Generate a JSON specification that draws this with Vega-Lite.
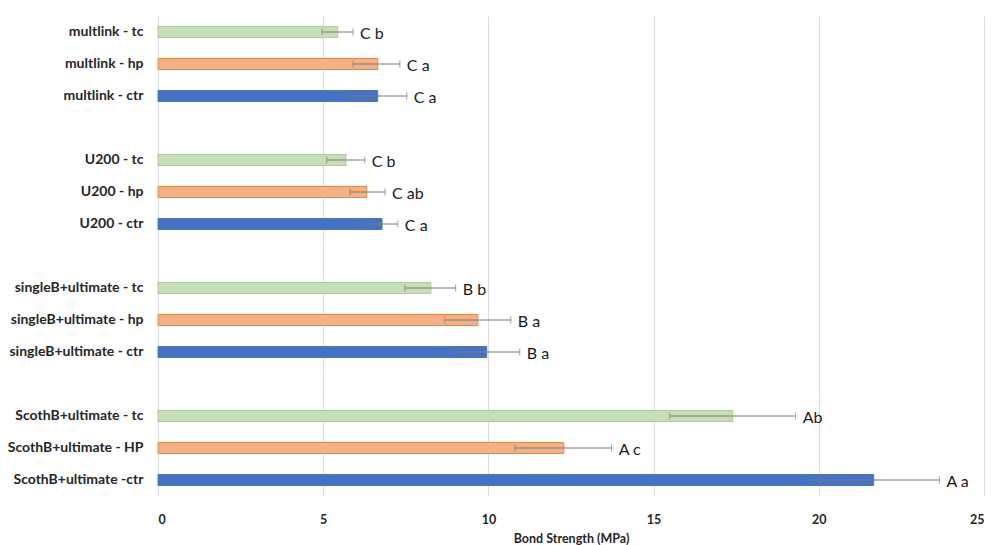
{
  "$schema": "https://vega.github.io/schema/vega-lite/v6.json",
  "width": 826,
  "height": 480,
  "autosize": {"type": "none"},
  "padding": {"left": 158, "top": 16, "right": 7, "bottom": 49},
  "background": "white",
  "config": {"view": {"stroke": null}, "font": "Lato"},
  "data": {
    "values": [
      {"label": "multlink - tc", "cond": "tc", "mean": 5.44, "lo": 4.96, "hi": 5.9, "sig": "C b"},
      {"label": "multlink - hp", "cond": "hp", "mean": 6.65, "lo": 5.9, "hi": 7.32, "sig": "C a"},
      {"label": "multlink - ctr", "cond": "ctr", "mean": 6.65, "lo": 5.72, "hi": 7.53, "sig": "C a"},
      {"label": "U200 - tc", "cond": "tc", "mean": 5.69, "lo": 5.11, "hi": 6.26, "sig": "C b"},
      {"label": "U200 - hp", "cond": "hp", "mean": 6.32, "lo": 5.81, "hi": 6.87, "sig": "C ab"},
      {"label": "U200 - ctr", "cond": "ctr", "mean": 6.78, "lo": 6.29, "hi": 7.26, "sig": "C a"},
      {"label": "singleB+ultimate - tc", "cond": "tc", "mean": 8.26, "lo": 7.47, "hi": 9.01, "sig": "B b"},
      {"label": "singleB+ultimate - hp", "cond": "hp", "mean": 9.68, "lo": 8.68, "hi": 10.68, "sig": "B a"},
      {"label": "singleB+ultimate - ctr", "cond": "ctr", "mean": 9.95, "lo": 8.95, "hi": 10.95, "sig": "B a"},
      {"label": "ScothB+ultimate - tc", "cond": "tc", "mean": 17.39, "lo": 15.49, "hi": 19.3, "sig": "Ab"},
      {"label": "ScothB+ultimate - HP", "cond": "hp", "mean": 12.28, "lo": 10.8, "hi": 13.73, "sig": "A c"},
      {"label": "ScothB+ultimate -ctr", "cond": "ctr", "mean": 21.66, "lo": 19.66, "hi": 23.65, "sig": "A a"}
    ]
  },
  "encoding": {
    "y": {
      "field": "label",
      "type": "nominal",
      "scale": {
        "domain": ["multlink - tc", "multlink - hp", "multlink - ctr", "gap1",
                   "U200 - tc", "U200 - hp", "U200 - ctr", "gap2",
                   "singleB+ultimate - tc", "singleB+ultimate - hp", "singleB+ultimate - ctr", "gap3",
                   "ScothB+ultimate - tc", "ScothB+ultimate - HP", "ScothB+ultimate -ctr"],
        "paddingInner": 0,
        "paddingOuter": 0
      },
      "axis": {
        "title": null,
        "ticks": false,
        "domain": false,
        "labelPadding": 15,
        "labelFont": "Lato",
        "labelFontWeight": "bold",
        "labelFontSize": 14,
        "labelColor": "#262626",
        "labelExpr": "indexof(datum.value, 'gap') == 0 ? '' : datum.value"
      }
    }
  },
  "layer": [
    {
      "mark": {"type": "bar", "size": 11, "strokeWidth": 1},
      "encoding": {
        "x": {
          "field": "mean",
          "type": "quantitative",
          "scale": {"domain": [0, 25], "nice": false},
          "axis": {
            "title": "Bond Strength (MPa)",
            "values": [0, 5, 10, 15, 20, 25],
            "grid": true,
            "gridColor": "#d9d9d9",
            "gridWidth": 1,
            "ticks": false,
            "domain": false,
            "labelPadding": 17,
            "labelFont": "Lato",
            "labelFontWeight": "bold",
            "labelFontSize": 12.5,
            "labelColor": "#262626",
            "titleFont": "Lato",
            "titleFontWeight": "bold",
            "titleFontSize": 12.5,
            "titleColor": "#262626",
            "titlePadding": 7
          }
        },
        "fill": {
          "field": "cond",
          "type": "nominal",
          "scale": {"domain": ["ctr", "hp", "tc"], "range": ["#4472C4", "#F4B183", "#C5E0B4"]},
          "legend": null
        },
        "stroke": {
          "field": "cond",
          "type": "nominal",
          "scale": {"domain": ["ctr", "hp", "tc"], "range": ["#4A76C6", "#E8874C", "#A9D18E"]},
          "legend": null
        }
      }
    },
    {
      "mark": {"type": "rule", "color": "#7a7a7a", "strokeWidth": 1},
      "encoding": {
        "x": {"field": "lo", "type": "quantitative"},
        "x2": {"field": "hi"}
      }
    },
    {
      "mark": {"type": "tick", "color": "#7a7a7a", "size": 7, "thickness": 1},
      "encoding": {"x": {"field": "lo", "type": "quantitative"}}
    },
    {
      "mark": {"type": "tick", "color": "#7a7a7a", "size": 7, "thickness": 1},
      "encoding": {"x": {"field": "hi", "type": "quantitative"}}
    },
    {
      "mark": {"type": "text", "align": "left", "baseline": "middle", "dx": 7, "dy": 2, "fontSize": 16, "font": "Lato", "color": "#1a1a1a"},
      "encoding": {
        "x": {"field": "hi", "type": "quantitative"},
        "text": {"field": "sig"}
      }
    }
  ]
}
